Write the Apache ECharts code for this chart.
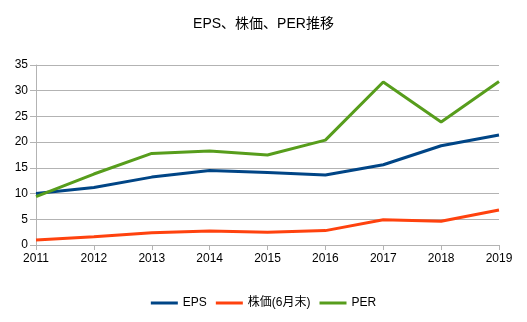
<!DOCTYPE html>
<html><head><meta charset="utf-8">
<script src="https://cdn.jsdelivr.net/npm/echarts@6/dist/echarts.min.js"></script>
<style>html,body{margin:0;padding:0;background:#fff}#c{width:527px;height:322px}</style>
</head><body><div id="c"></div>
<script>
const years = ['2011','2012','2013','2014','2015','2016','2017','2018','2019'];
const eps = [10.0, 11.2, 13.2, 14.5, 14.1, 13.6, 15.6, 19.3, 21.4];
const price = [0.97, 1.6, 2.4, 2.7, 2.5, 2.8, 4.9, 4.6, 6.8];
const per = [9.4, 13.8, 17.8, 18.3, 17.5, 20.4, 31.7, 23.9, 31.8];
const seriesNames = ['EPS', '株価(6月末)', 'PER'];
const titleText = 'EPS、株価、PER推移';
const font = '"Liberation Sans", "Noto Sans CJK JP", sans-serif';
const chart = echarts.init(document.getElementById('c'), null, {renderer: 'canvas'});
const mk = (name, data, color) => ({
  name, type: 'line', data, symbol: 'none', smooth: false,
  lineStyle: {color, width: 3}, itemStyle: {color}
});
chart.setOption({
  animation: false,
  textStyle: {fontFamily: font},
  title: {text: titleText, left: 'center', top: 12,
    textStyle: {fontSize: 14, fontWeight: 'normal', color: '#000', fontFamily: font}},
  legend: {bottom: 8, left: 'center', itemWidth: 27, itemHeight: 3, itemGap: 9,
    icon: 'rect',
    textStyle: {fontSize: 12, color: '#000', fontFamily: font},
    data: seriesNames},
  grid: {left: 36, right: 28, top: 65, bottom: 77, containLabel: false},
  xAxis: {type: 'category', data: years, boundaryGap: false,
    axisLine: {lineStyle: {color: '#b3b3b3', width: 1}},
    axisTick: {show: true, length: 5, lineStyle: {color: '#b3b3b3'}, alignWithLabel: true},
    axisLabel: {color: '#000', fontSize: 12, margin: 8, fontFamily: font},
    splitLine: {show: false}},
  yAxis: {type: 'value', min: 0, max: 35, interval: 5,
    axisLine: {show: true, lineStyle: {color: '#b3b3b3', width: 1}},
    axisTick: {show: true, length: 6, lineStyle: {color: '#b3b3b3'}},
    axisLabel: {color: '#000', fontSize: 12, margin: 8, fontFamily: font},
    splitLine: {show: true, lineStyle: {color: '#b3b3b3', width: 1}}},
  series: [
    mk(seriesNames[0], eps, '#004586'),
    mk(seriesNames[1], price, '#ff420e'),
    mk(seriesNames[2], per, '#579d1c')
  ]
});
</script></body></html>
